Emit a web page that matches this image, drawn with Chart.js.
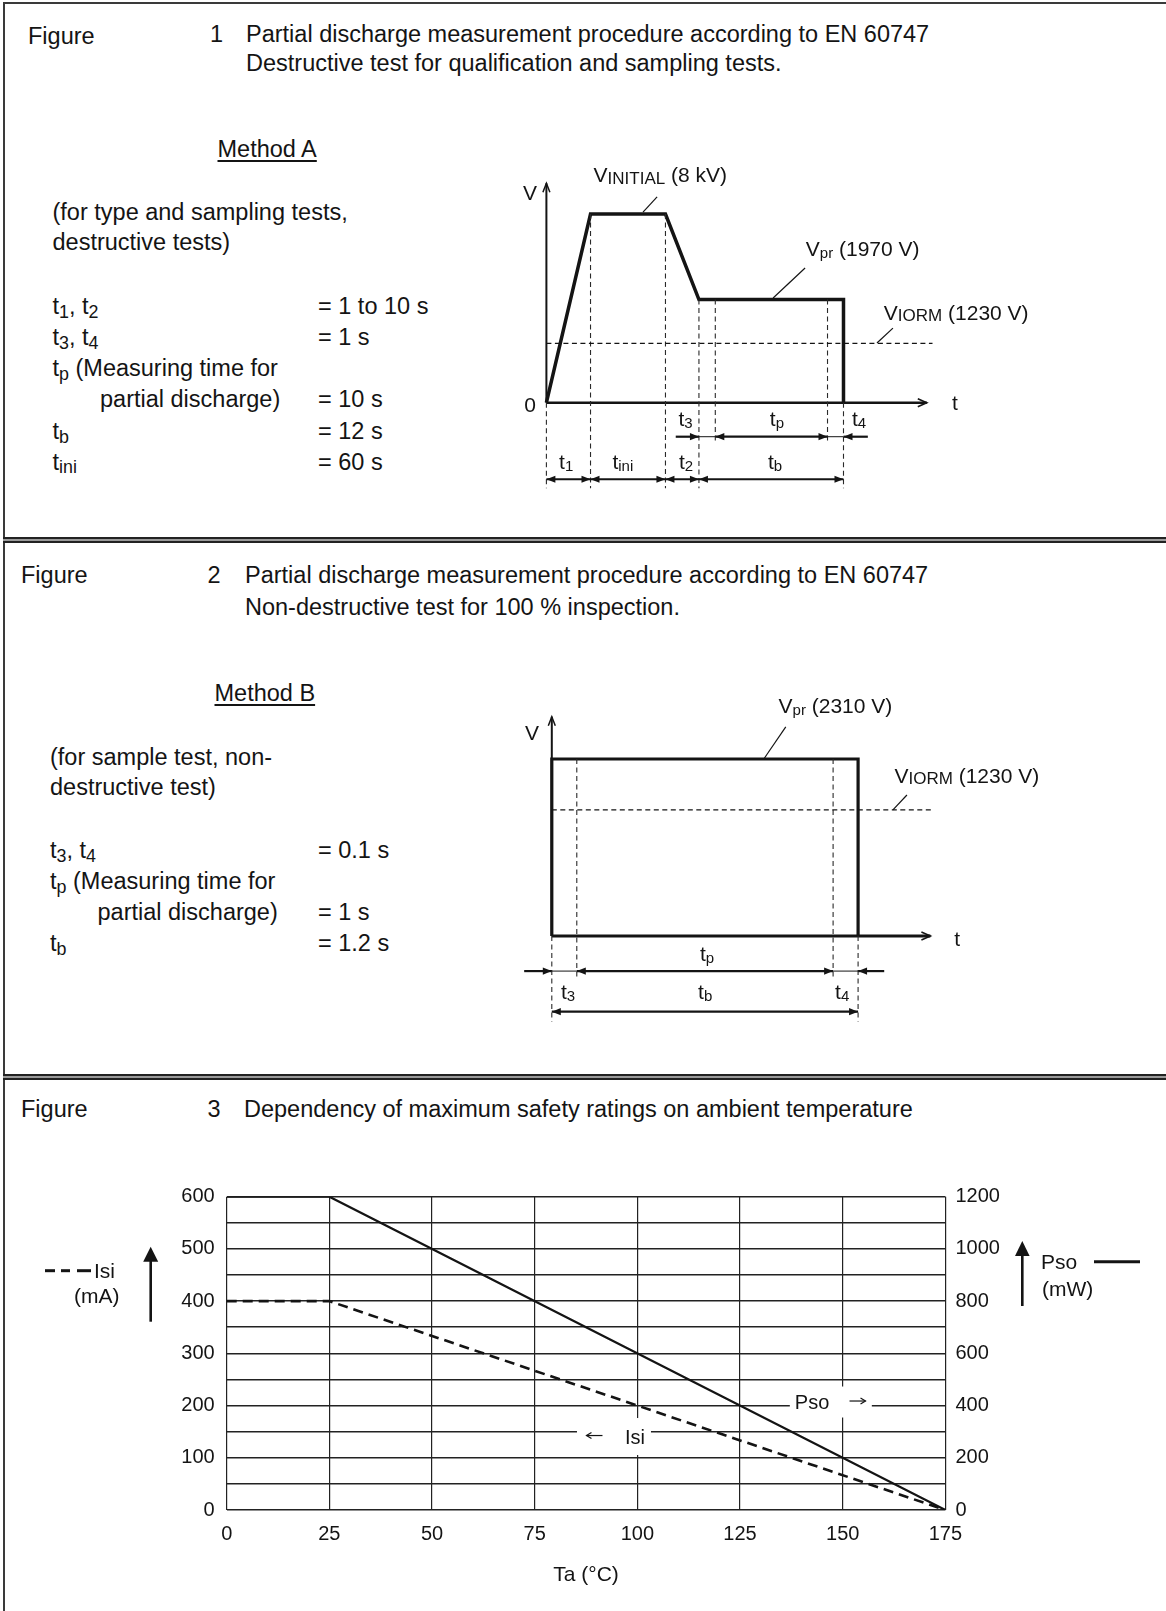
<!DOCTYPE html>
<html><head><meta charset="utf-8">
<script src="https://cdn.jsdelivr.net/npm/chart.js@4.4.1/dist/chart.umd.min.js"></script>
<style>
html,body{margin:0;padding:0;background:#fff;}
#page{position:relative;width:1166px;height:1611px;overflow:hidden;background:#fff;font-family:"Liberation Sans",Arial,Helvetica,sans-serif;color:#141414;}
.t{position:absolute;white-space:nowrap;font-size:23.5px;line-height:23px;}
.sb{font-size:0.76em;position:relative;top:0.22em;}
.u{text-decoration:underline;text-underline-offset:3px;text-decoration-thickness:1.5px;}
.sep{position:absolute;left:3px;width:1163px;height:6px;box-sizing:border-box;border-top:2px solid #222;border-bottom:2px solid #222;background:#9a9a9a;}
canvas{position:absolute;}
</style></head>
<body><div id="page">
<div style="position:absolute;left:3px;top:2px;width:1163px;height:2px;background:#3a3a3a"></div>
<div style="position:absolute;left:3px;top:2px;width:2px;height:1609px;background:#3a3a3a"></div>
<div class="sep" style="top:537px"></div>
<div class="sep" style="top:1074px"></div>

<!-- Figure 1 texts -->
<div class="t" style="left:28px;top:25px">Figure</div>
<div class="t" style="left:210px;top:23px">1</div>
<div class="t" style="left:246px;top:23px">Partial discharge measurement procedure according to EN 60747</div>
<div class="t" style="left:246px;top:51.5px">Destructive test for qualification and sampling tests.</div>
<div class="t u" style="left:217.5px;top:138px">Method A</div>
<div class="t" style="left:52.5px;top:200.6px">(for type and sampling tests,</div>
<div class="t" style="left:52.5px;top:231.2px">destructive tests)</div>
<div class="t" style="left:52.5px;top:295.3px">t<span class="sb">1</span>, t<span class="sb">2</span></div>
<div class="t" style="left:318px;top:295.3px">= 1 to 10 s</div>
<div class="t" style="left:52.5px;top:326.3px">t<span class="sb">3</span>, t<span class="sb">4</span></div>
<div class="t" style="left:318px;top:326.3px">= 1 s</div>
<div class="t" style="left:52.5px;top:357.3px">t<span class="sb">p</span> (Measuring time for</div>
<div class="t" style="left:100px;top:388.2px">partial discharge)</div>
<div class="t" style="left:318px;top:388.2px">= 10 s</div>
<div class="t" style="left:52.5px;top:420px">t<span class="sb">b</span></div>
<div class="t" style="left:318px;top:420px">= 12 s</div>
<div class="t" style="left:52.5px;top:450.5px">t<span class="sb">ini</span></div>
<div class="t" style="left:318px;top:450.5px">= 60 s</div>

<!-- Figure 2 texts -->
<div class="t" style="left:21px;top:563.8px">Figure</div>
<div class="t" style="left:207.5px;top:563.8px">2</div>
<div class="t" style="left:245px;top:563.8px">Partial discharge measurement procedure according to EN 60747</div>
<div class="t" style="left:245px;top:595.8px">Non-destructive test for 100 % inspection.</div>
<div class="t u" style="left:214.5px;top:682px">Method B</div>
<div class="t" style="left:50px;top:745.8px">(for sample test, non-</div>
<div class="t" style="left:50px;top:776px">destructive test)</div>
<div class="t" style="left:50px;top:838.8px">t<span class="sb">3</span>, t<span class="sb">4</span></div>
<div class="t" style="left:318px;top:838.8px">= 0.1 s</div>
<div class="t" style="left:50px;top:870.3px">t<span class="sb">p</span> (Measuring time for</div>
<div class="t" style="left:97.5px;top:900.8px">partial discharge)</div>
<div class="t" style="left:318px;top:900.8px">= 1 s</div>
<div class="t" style="left:50px;top:932.3px">t<span class="sb">b</span></div>
<div class="t" style="left:318px;top:932.3px">= 1.2 s</div>

<!-- Figure 3 texts -->
<div class="t" style="left:21px;top:1097.8px">Figure</div>
<div class="t" style="left:207.5px;top:1097.8px">3</div>
<div class="t" style="left:244px;top:1097.8px">Dependency of maximum safety ratings on ambient temperature</div>

<canvas id="c1" width="560" height="360" style="left:480px;top:150px"></canvas>
<canvas id="c2" width="560" height="370" style="left:480px;top:670px"></canvas>
<canvas id="c3" width="1166" height="471" style="left:0px;top:1140px"></canvas>
</div>
<script>
// ================= DATA =================
// Figure 1 (Method A) – schematic, diagram units (time axis 0..100, voltage axis 0..100)
const methodA_t = [0, 11.6, 31.3, 40.1, 78.1, 78.1];
const methodA_v = [0, 86, 86, 47, 47, 0];
const methodA_iormLevel = 27;
const methodA_iormEnd = 101.5;
const methodA_guideT = [0, 11.6, 31.3, 40.1, 44.4, 73.9, 78.1];
const methodA_guideTop = [0, 86, 86, 47, 47, 47, 0];
const methodA_guideBottom = [-39, -39, -39, -39, -18, -18, -39];

// Figure 2 (Method B) – schematic
const methodB_t = [0, 0, 80.9, 80.9];
const methodB_v = [0, 80.7, 80.7, 0];
const methodB_iormLevel = 57.5;
const methodB_iormEnd = 100.4;
const methodB_guideT = [0, 6.6, 74.3, 80.9];
const methodB_guideTop = [0, 80.7, 80.7, 0];
const methodB_guideBottom = [-39, -18.6, -18.6, -39];

// Figure 3 – safety ratings vs ambient temperature
const tempC = [0, 25, 175];
const isiMA = [400, 400, 0];
const psoMW = [1200, 1200, 0];
const tempTicks = [0, 25, 50, 75, 100, 125, 150, 175];
const isiTickLabels = [0, 100, 200, 300, 400, 500, 600];
const psoTickLabels = [0, 200, 400, 600, 800, 1000, 1200];

// ================= HELPERS =================
const FONT = '"Liberation Sans", Arial, Helvetica, sans-serif';
Chart.defaults.font.family = FONT;
Chart.defaults.color = '#141414';
const INK = '#141414';

function rich(ctx, x, yc, parts, align, base) {
  const size0 = base || 21;
  let w = 0;
  parts.forEach(p => { ctx.font = (p.s || size0) + 'px ' + FONT; p._w = ctx.measureText(p.t).width; w += p._w; });
  let cx = align === 'center' ? x - w / 2 : (align === 'right' ? x - w : x);
  const baseY = yc + 0.358 * size0;
  ctx.textAlign = 'left'; ctx.textBaseline = 'alphabetic';
  parts.forEach(p => { ctx.font = (p.s || size0) + 'px ' + FONT; ctx.fillText(p.t, cx, baseY + (p.dy || 0)); cx += p._w; });
}
function seg(ctx, x1, y1, x2, y2, w) {
  ctx.lineWidth = w; ctx.beginPath(); ctx.moveTo(x1, y1); ctx.lineTo(x2, y2); ctx.stroke();
}
function chevron(ctx, x, y, ang, len, hw, w) {
  const c = Math.cos(ang), s = Math.sin(ang);
  ctx.lineWidth = w; ctx.beginPath();
  ctx.moveTo(x - len * c - hw * s, y - len * s + hw * c);
  ctx.lineTo(x, y);
  ctx.lineTo(x - len * c + hw * s, y - len * s - hw * c);
  ctx.stroke();
}
function tri(ctx, x, y, ang, len, hw) {
  const c = Math.cos(ang), s = Math.sin(ang);
  ctx.beginPath();
  ctx.moveTo(x, y);
  ctx.lineTo(x - len * c - hw * s, y - len * s + hw * c);
  ctx.lineTo(x - len * c + hw * s, y - len * s - hw * c);
  ctx.closePath(); ctx.fill();
}

function makeDiagramPlugin(spec) {
  return {
    id: 'diagram',
    beforeDatasetsDraw(chart) {
      const ctx = chart.ctx, xs = chart.scales.x, ys = chart.scales.y;
      const X = v => xs.getPixelForValue(v), Y = v => ys.getPixelForValue(v);
      ctx.save(); ctx.strokeStyle = INK; ctx.fillStyle = INK; ctx.lineCap = 'butt';
      const o = spec.axes;
      seg(ctx, X(0), Y(0), X(0), Y(o.yTop), o.yw);
      chevron(ctx, X(0), Y(o.yTop), -Math.PI / 2, 9, 3.5, 1.5);
      seg(ctx, X(0), Y(0), X(o.xEnd), Y(0), o.xw);
      chevron(ctx, X(o.xEnd), Y(0), 0, 9, 4, 1.6);
      ctx.restore();
    },
    afterDatasetsDraw(chart) {
      const ctx = chart.ctx, xs = chart.scales.x, ys = chart.scales.y;
      const X = v => xs.getPixelForValue(v), Y = v => ys.getPixelForValue(v);
      ctx.save(); ctx.strokeStyle = INK; ctx.fillStyle = INK;
      spec.leaders.forEach(l => seg(ctx, X(l[0]), Y(l[1]), X(l[2]), Y(l[3]), 1.2));
      spec.arrows.forEach(a => {
        const x1 = X(a.x1), x2 = X(a.x2), y = Y(a.y);
        seg(ctx, x1, y, x2, y, a.heads === 'none' ? 1 : 2.2);
        const dir = x2 > x1 ? 0 : Math.PI;
        if (a.heads === 'end' || a.heads === 'both') tri(ctx, x2, y, dir, 9, 3.6);
        if (a.heads === 'both') tri(ctx, x1, y, dir + Math.PI, 9, 3.6);
      });
      spec.labels.forEach(l => rich(ctx, X(l.x), Y(l.y), l.parts.map(p => Object.assign({}, p)), l.align));
      ctx.restore();
    }
  };
}

function lineDs(xArr, yArr, w, dash) {
  return { data: xArr.map((x, i) => ({ x: x, y: yArr[i] })), showLine: true, borderColor: INK,
           borderWidth: w, borderDash: dash || [], pointRadius: 0, clip: false, tension: 0,
           borderJoinStyle: 'miter', fill: false };
}
function guideDatasets(ts, tops, bottoms) {
  return ts.map((t, i) => Object.assign(lineDs([t, t], [tops[i], bottoms[i]], 1.1, [5, 3.5]), { borderColor: '#2a2a2a' }));
}
function diagramChart(id, padding, datasets, spec) {
  return new Chart(document.getElementById(id), {
    type: 'scatter',
    data: { datasets: datasets },
    options: {
      responsive: false, animation: false, events: [],
      layout: { padding: padding },
      plugins: { legend: { display: false }, tooltip: { enabled: false } },
      scales: { x: { type: 'linear', min: 0, max: 100, display: false },
                y: { type: 'linear', min: 0, max: 100, display: false } }
    },
    plugins: [makeDiagramPlugin(spec)]
  });
}

const sub = (t) => ({ t: t, s: 15, dy: 2 });
const cap = (t) => ({ t: t, s: 17, dy: 1.5 });

// ================= FIGURE 1 =================
diagramChart('c1', { left: 66.4, right: 113.2, top: 33.3, bottom: 107.3 },
  [lineDs([0, methodA_iormEnd], [methodA_iormLevel, methodA_iormLevel], 1.2, [5, 3.5])]
    .concat(guideDatasets(methodA_guideT, methodA_guideTop, methodA_guideBottom))
    .concat([lineDs(methodA_t, methodA_v, 3.5)]),
  {
    axes: { yTop: 100, xEnd: 100, yw: 2, xw: 2.6 },
    leaders: [[29.1, 93.8, 25.4, 86.9], [68.0, 61.4, 59.6, 47.7], [91.1, 34.0, 86.9, 27.2]],
    arrows: [
      { y: -15.5, x1: 34.0, x2: 40.1, heads: 'end' },
      { y: -15.5, x1: 40.1, x2: 44.4, heads: 'none' },
      { y: -15.5, x1: 44.4, x2: 73.9, heads: 'both' },
      { y: -15.5, x1: 73.9, x2: 78.1, heads: 'none' },
      { y: -15.5, x1: 84.5, x2: 78.1, heads: 'end' },
      { y: -34.9, x1: 0, x2: 11.6, heads: 'both' },
      { y: -34.9, x1: 11.6, x2: 31.3, heads: 'both' },
      { y: -34.9, x1: 31.3, x2: 40.1, heads: 'both' },
      { y: -34.9, x1: 40.1, x2: 78.1, heads: 'both' }
    ],
    labels: [
      { x: -4.3, y: 95.6, align: 'center', parts: [{ t: 'V' }] },
      { x: -4.3, y: -0.6, align: 'center', parts: [{ t: '0' }] },
      { x: 107.4, y: 0, align: 'center', parts: [{ t: 't' }] },
      { x: 12.4, y: 103.8, align: 'left', parts: [{ t: 'V' }, cap('INITIAL'), { t: ' (8 kV)' }] },
      { x: 68.2, y: 70.3, align: 'left', parts: [{ t: 'V' }, sub('pr'), { t: ' (1970 V)' }] },
      { x: 88.7, y: 41.3, align: 'left', parts: [{ t: 'V' }, cap('IORM'), { t: ' (1230 V)' }] },
      { x: 36.6, y: -7, align: 'center', parts: [{ t: 't' }, sub('3')] },
      { x: 60.6, y: -7, align: 'center', parts: [{ t: 't' }, sub('p')] },
      { x: 82.2, y: -7, align: 'center', parts: [{ t: 't' }, sub('4')] },
      { x: 5.2, y: -26.9, align: 'center', parts: [{ t: 't' }, sub('1')] },
      { x: 20.1, y: -26.9, align: 'center', parts: [{ t: 't' }, sub('ini')] },
      { x: 36.7, y: -26.9, align: 'center', parts: [{ t: 't' }, sub('2')] },
      { x: 60.1, y: -26.9, align: 'center', parts: [{ t: 't' }, sub('b')] }
    ]
  });

// ================= FIGURE 2 =================
diagramChart('c2', { left: 71.8, right: 109.6, top: 46.7, bottom: 104 },
  [lineDs([0, methodB_iormEnd], [methodB_iormLevel, methodB_iormLevel], 1.2, [5, 3.5])]
    .concat(guideDatasets(methodB_guideT, methodB_guideTop, methodB_guideBottom))
    .concat([lineDs(methodB_t, methodB_v, 3.2)]),
  {
    axes: { yTop: 100, xEnd: 100, yw: 2, xw: 3 },
    leaders: [[61.8, 95.4, 56.0, 80.7], [93.8, 64.3, 90.1, 57.5]],
    arrows: [
      { y: -16, x1: -7.3, x2: 0, heads: 'end' },
      { y: -16, x1: 0, x2: 6.6, heads: 'none' },
      { y: -16, x1: 6.6, x2: 74.3, heads: 'both' },
      { y: -16, x1: 74.3, x2: 80.9, heads: 'none' },
      { y: -16, x1: 87.8, x2: 80.9, heads: 'end' },
      { y: -34.5, x1: 0, x2: 80.9, heads: 'both' }
    ],
    labels: [
      { x: -5.2, y: 92.8, align: 'center', parts: [{ t: 'V' }] },
      { x: 107.1, y: -1, align: 'center', parts: [{ t: 't' }] },
      { x: 59.9, y: 105, align: 'left', parts: [{ t: 'V' }, sub('pr'), { t: ' (2310 V)' }] },
      { x: 90.5, y: 73.2, align: 'left', parts: [{ t: 'V' }, cap('IORM'), { t: ' (1230 V)' }] },
      { x: 41.0, y: -7.8, align: 'center', parts: [{ t: 't' }, sub('p')] },
      { x: 4.3, y: -25.4, align: 'center', parts: [{ t: 't' }, sub('3')] },
      { x: 40.5, y: -25.4, align: 'center', parts: [{ t: 't' }, sub('b')] },
      { x: 76.7, y: -25.4, align: 'center', parts: [{ t: 't' }, sub('4')] }
    ]
  });

// ================= FIGURE 3 =================
const fig3Plugin = {
  id: 'fig3deco',
  beforeDatasetsDraw(chart) {
    const ctx = chart.ctx, xs = chart.scales.x, ys = chart.scales.y;
    ctx.save();
    const boxes = [
      { t: 147.1, v: 206.8, w: 82, h: 31, txt: 'Pso', tx: -36, arrow: 1, ax: 26.7 },
      { t: 94.3, v: 140.7, w: 74, h: 37, txt: 'Isi', tx: 11, arrow: -1, ax: -19.5 }
    ];
    boxes.forEach(b => {
      const cx = xs.getPixelForValue(b.t), cy = ys.getPixelForValue(b.v);
      ctx.fillStyle = '#fff'; ctx.fillRect(cx - b.w / 2, cy - b.h / 2, b.w, b.h);
      ctx.fillStyle = INK; ctx.strokeStyle = INK;
      rich(ctx, cx + b.tx, cy, [{ t: b.txt }], 'left', 20);
      const ax = cx + b.ax;
      seg(ctx, ax - 8, cy - 1, ax + 8, cy - 1, 1.2);
      chevron(ctx, ax + 8 * b.arrow, cy - 1, b.arrow > 0 ? 0 : Math.PI, 5, 3, 1.2);
    });
    ctx.restore();
  },
  afterDraw(chart) {
    const ctx = chart.ctx;
    ctx.save(); ctx.fillStyle = INK; ctx.strokeStyle = INK;
    [[45, 55], [61, 70], [77, 91]].forEach(d => seg(ctx, d[0], 130.7, d[1], 130.7, 3));
    rich(ctx, 94, 130, [{ t: 'Isi' }], 'left', 21);
    rich(ctx, 74, 155, [{ t: '(mA)' }], 'left', 21);
    seg(ctx, 150.7, 181.7, 150.7, 118, 2.6);
    tri(ctx, 150.7, 106.7, -Math.PI / 2, 15, 7.5);
    seg(ctx, 1022.3, 166, 1022.3, 112, 2.6);
    tri(ctx, 1022.3, 101, -Math.PI / 2, 15, 7.3);
    rich(ctx, 1041, 121.7, [{ t: 'Pso' }], 'left', 21);
    seg(ctx, 1094, 121.7, 1140, 121.7, 3);
    rich(ctx, 1042, 148, [{ t: '(mW)' }], 'left', 21);
    ctx.restore();
  }
};

new Chart(document.getElementById('c3'), {
  type: 'line',
  data: {
    datasets: [
      { label: 'Pso', yAxisID: 'y2', data: tempC.map((t, i) => ({ x: t, y: psoMW[i] })),
        borderColor: INK, borderWidth: 2.2, pointRadius: 0, tension: 0, fill: false },
      { label: 'Isi', yAxisID: 'y', data: tempC.map((t, i) => ({ x: t, y: isiMA[i] })),
        borderColor: INK, borderWidth: 2.6, borderDash: [10, 6], pointRadius: 0, tension: 0, fill: false }
    ]
  },
  options: {
    responsive: false, animation: false, events: [],
    layout: { padding: { left: 166.7, right: 150.6, top: 56.7, bottom: 0 } },
    plugins: { legend: { display: false }, tooltip: { enabled: false } },
    scales: {
      x: {
        type: 'linear', min: 0, max: 175,
        afterFit: s => { s.height = 101; },
        afterBuildTicks: s => { s.ticks = tempTicks.map(v => ({ value: v })); },
        grid: { color: '#222', lineWidth: 1.2, drawTicks: false },
        border: { display: false },
        ticks: { autoSkip: false, maxRotation: 0, padding: 12, font: { size: 20 }, color: INK,
                 callback: v => String(v) },
        title: { display: true, text: 'Ta (°C)', font: { size: 21 }, color: INK, padding: { top: 0, bottom: 23.4 } }
      },
      y: {
        type: 'linear', position: 'left', min: 0, max: 600,
        afterFit: s => { s.width = 60; },
        grid: { color: '#222', lineWidth: 1.6, drawTicks: false },
        border: { display: false },
        ticks: { stepSize: 50, autoSkip: false, padding: 12, font: { size: 20 }, color: INK,
                 callback: v => isiTickLabels.includes(v) ? String(v) : '' }
      },
      y2: {
        type: 'linear', position: 'right', min: 0, max: 1200,
        afterFit: s => { s.width = 70; },
        grid: { drawOnChartArea: false, drawTicks: false },
        border: { display: false },
        ticks: { stepSize: 100, autoSkip: false, padding: 10, font: { size: 20 }, color: INK,
                 callback: v => psoTickLabels.includes(v) ? String(v) : '' }
      }
    }
  },
  plugins: [fig3Plugin]
});
</script>
</body></html>
